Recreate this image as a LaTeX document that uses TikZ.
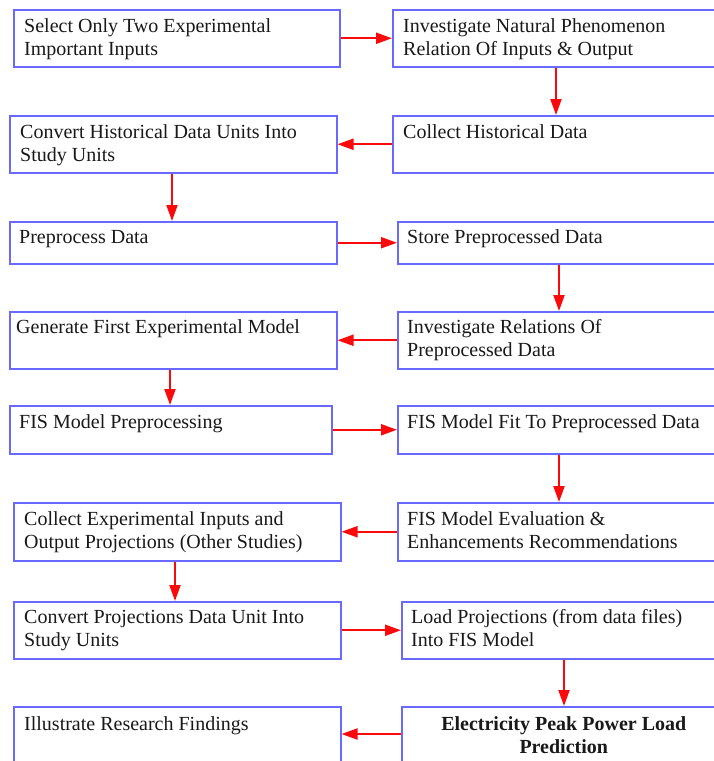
\documentclass[tikz,border=0pt]{standalone}
\usepackage{fontspec}
\setmainfont{Liberation Serif}
\usetikzlibrary{calc,arrows.meta}
\definecolor{boxblue}{RGB}{105,105,255}
\definecolor{arrred}{RGB}{250,10,10}
\tikzset{
  box/.style={draw=boxblue, line width=1.5pt, inner sep=0pt, anchor=north west, fill=white},
  txt/.style={inner sep=0pt, anchor=base west, font=\fontsize{20}{23}\selectfont, text=black!90},
  ctxt/.style={inner sep=0pt, anchor=base, font=\fontsize{20}{23}\selectfont\bfseries, text=black!90},
  arr/.style={draw=arrred, line width=2pt, -{Triangle[length=16pt,width=11pt]}}
}
\newcommand{\tl}[1]{\begin{tabular}[t]{@{}l@{}}#1\end{tabular}}
\newcommand{\tc}[1]{\begin{tabular}[t]{@{}c@{}}#1\end{tabular}}
\begin{document}
\begin{tikzpicture}[x=1pt,y=-1pt]
\useasboundingbox (0,0) rectangle (714,761);
\clip (0,0) rectangle (714,761);
% boxes
\node[box, minimum width=326pt, minimum height=57pt] (B1) at (13,9) {};
\node[box, minimum width=333pt, minimum height=57pt] (B2) at (392,9) {};
\node[box, minimum width=333pt, minimum height=57pt] (B3) at (392,115) {};
\node[box, minimum width=327pt, minimum height=57pt] (B4) at (9,115) {};
\node[box, minimum width=327pt, minimum height=42pt] (B5) at (9,221) {};
\node[box, minimum width=328pt, minimum height=42pt] (B6) at (397,221) {};
\node[box, minimum width=328pt, minimum height=57pt] (B7) at (397,311) {};
\node[box, minimum width=327pt, minimum height=57pt] (B8) at (9,311) {};
\node[box, minimum width=322pt, minimum height=48pt] (B9) at (9,405) {};
\node[box, minimum width=328pt, minimum height=48pt] (B10) at (397,405) {};
\node[box, minimum width=328pt, minimum height=58pt] (B11) at (397,502) {};
\node[box, minimum width=327pt, minimum height=58pt] (B12) at (13,502) {};
\node[box, minimum width=327pt, minimum height=57pt] (B13) at (13,601) {};
\node[box, minimum width=324pt, minimum height=57pt] (B14) at (401,601) {};
\node[box, minimum width=324pt, minimum height=90pt] (B15) at (401,706) {};
\node[box, minimum width=327pt, minimum height=90pt] (B16) at (13,706) {};
% texts
\node[txt] (T1) at ($(B1.north west)+(11,23)$) {\tl{Select Only Two Experimental\\Important Inputs}};
\node[txt] (T2) at ($(B2.north west)+(11,23)$) {\tl{Investigate Natural Phenomenon\\Relation Of Inputs \& Output}};
\node[txt] (T3) at ($(B3.north west)+(11,23)$) {\tl{Collect Historical Data}};
\node[txt] (T4) at ($(B4.north west)+(11,23)$) {\tl{Convert Historical Data Units Into\\Study Units}};
\node[txt] (T5) at ($(B5.north west)+(10,22)$) {\tl{Preprocess Data}};
\node[txt] (T6) at ($(B6.north west)+(10,22)$) {\tl{Store Preprocessed Data}};
\node[txt] (T7) at ($(B7.north west)+(10,22)$) {\tl{Investigate Relations Of\\Preprocessed Data}};
\node[txt] (T8) at ($(B8.north west)+(7,22)$) {\tl{Generate First Experimental Model}};
\node[txt] (T9) at ($(B9.north west)+(10,23)$) {\tl{FIS Model Preprocessing}};
\node[txt] (T10) at ($(B10.north west)+(10,23)$) {\tl{FIS Model Fit To Preprocessed Data}};
\node[txt] (T11) at ($(B11.north west)+(10,23)$) {\tl{FIS Model Evaluation \&\\Enhancements Recommendations}};
\node[txt] (T12) at ($(B12.north west)+(11,23)$) {\tl{Collect Experimental Inputs and\\Output Projections (Other Studies)}};
\node[txt] (T13) at ($(B13.north west)+(11,22)$) {\tl{Convert Projections Data Unit Into\\Study Units}};
\node[txt] (T14) at ($(B14.north west)+(10,22)$) {\tl{Load Projections (from data files)\\Into FIS Model}};
\node[ctxt] (T15) at ($(B15.north)+(0,24)$) {\tc{Electricity Peak Power Load\\Prediction}};
\node[txt] (T16) at ($(B16.north west)+(11,24)$) {\tl{Illustrate Research Findings}};
% arrows
\draw[arr] (B1.east) -- (B2.west);
\draw[arr] (B2.south -| 556,0) -- (B3.north -| 556,0);
\draw[arr] (B3.west) -- (B4.east);
\draw[arr] (B4.south -| 172,0) -- (B5.north -| 172,0);
\draw[arr] (B5.east) -- (B6.west);
\draw[arr] (B6.south -| 559,0) -- (B7.north -| 559,0);
\draw[arr] (B7.west) -- (B8.east);
\draw[arr] (B8.south -| 170,0) -- (B9.north -| 170,0);
\draw[arr] (B9.east) -- (B10.west);
\draw[arr] (B10.south -| 559,0) -- (B11.north -| 559,0);
\draw[arr] (B11.west) -- (B12.east);
\draw[arr] (B12.south -| 175,0) -- (B13.north -| 175,0);
\draw[arr] (B13.east) -- (B14.west);
\draw[arr] (B14.south -| 564,0) -- (B15.north -| 564,0);
\draw[arr] (B15.west |- 0,734) -- (B16.east |- 0,734);
\end{tikzpicture}
\end{document}
